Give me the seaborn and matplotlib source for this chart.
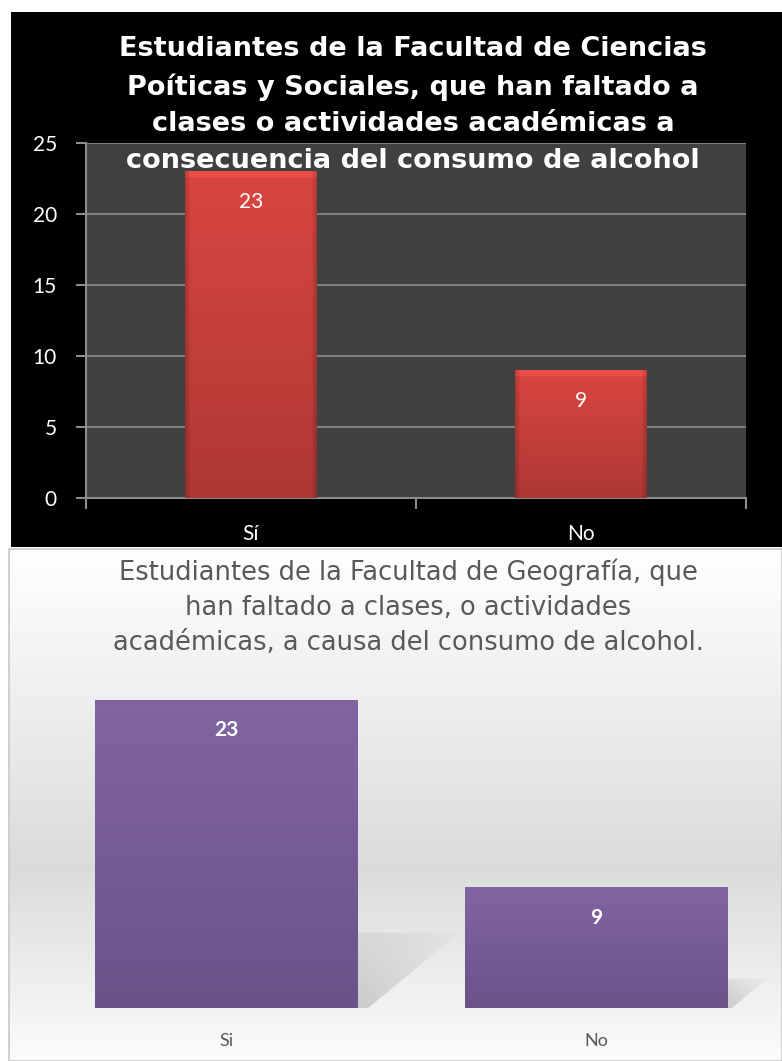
import numpy as np
import pandas as pd
import matplotlib
matplotlib.use("Agg")
import matplotlib.pyplot as plt
import seaborn as sns
from matplotlib.patches import Rectangle, Polygon
from matplotlib.colors import to_rgb

# ---------------- data ----------------
top_categories = ["Sí", "No"]
top_values = [23, 9]
top_title = ("Estudiantes de la Facultad de Ciencias\n"
             "Poíticas y Sociales, que han faltado a\n"
             "clases o actividades académicas a\n"
             "consecuencia del consumo de alcohol")
top_yticks = [0, 5, 10, 15, 20, 25]

bottom_categories = ["Si", "No"]
bottom_values = [23, 9]
bottom_title = ("Estudiantes de la Facultad de Geografía, que\n"
                "han faltado a clases, o actividades\n"
                "académicas, a causa del consumo de alcohol.")

W, H = 782, 1061
sns.set_theme(style="white")
plt.rcParams['font.family'] = ['Lato', 'DejaVu Sans']

fig = plt.figure(figsize=(W / 100, H / 100), dpi=100)
fig.patch.set_facecolor("white")


def fx(px):
    return px / W


def fy(py):
    return 1 - py / H


# black panel for top chart
fig.patches.append(Rectangle((fx(11), fy(547)), fx(W - 11), (547 - 12) / H,
                             transform=fig.transFigure, facecolor="black",
                             edgecolor="none", zorder=-5))

# ---------------- top chart ----------------
ax1 = fig.add_axes([fx(86), fy(498), fx(746 - 86), (498 - 143) / H])
ax1.set_zorder(2)
df1 = pd.DataFrame({"cat": top_categories, "val": top_values})
sns.barplot(data=df1, x="cat", y="val", ax=ax1, width=0.4,
            color="#d6443f", saturation=1, zorder=3, linewidth=0)
ax1.set_facecolor("#404040")
ax1.set_ylim(0, 25)
ax1.set_xlim(-0.5, 1.5)
ax1.set_yticks(top_yticks)
ax1.set_xlabel("")
ax1.set_ylabel("")
ax1.yaxis.grid(True, color="#8c8c8c", linewidth=1.2, zorder=1)
ax1.set_axisbelow(True)
for s in ["top", "right"]:
    ax1.spines[s].set_visible(False)
for s in ["left", "bottom"]:
    ax1.spines[s].set_color("#8c8c8c")
    ax1.spines[s].set_linewidth(1.5)
ax1.tick_params(axis="y", colors="#8c8c8c", labelcolor="white", length=7,
                width=1.5, labelsize=15, pad=14, left=True)
ax1.set_xticks([0, 1])
ax1.set_xticks([-0.5, 0.5, 1.5], minor=True)
ax1.tick_params(axis="x", which="major", length=0, labelcolor="white",
                labelsize=15, pad=19)
ax1.tick_params(axis="x", which="minor", length=8, width=1.5,
                color="#8c8c8c", bottom=True)

# gradient / bevel fill for top bars
top_rgb = np.array(to_rgb("#da4641"))
for p in ax1.patches:
    x0, y0 = p.get_x(), p.get_y()
    w, h = p.get_width(), p.get_height()
    ny, nx = 200, 100
    yy = np.linspace(1, 0, ny)[:, None]   # 1 = top
    xx = np.linspace(0, 1, nx)[None, :]
    shade = 0.80 + 0.20 * yy
    edge = 1 - 0.18 * np.clip(1 - np.minimum(xx, 1 - xx) / 0.04, 0, 1)
    img = top_rgb[None, None, :] * (shade * edge)[:, :, None]
    band = max(int(ny * min(0.05, 8 / (h * 14.2))), 2)
    img[:band] = np.minimum(img[:band] * 1.10, 1)
    img = np.clip(img, 0, 1)
    im = ax1.imshow(img, extent=[x0, x0 + w, y0, y0 + h], aspect="auto",
                    zorder=4, interpolation="bilinear")
    im.set_clip_path(p)
    ax1.annotate(f"{int(round(h))}", xy=(x0 + w / 2, h), xytext=(0, -22),
                 textcoords="offset points", ha="center", va="center",
                 color="white", fontsize=15, zorder=6)
ax1.set_xlim(-0.5, 1.5)
ax1.set_ylim(0, 25)

fig.text(fx(413), fy(105), top_title, ha="center", va="center",
         color="white", fontsize=19.5, fontweight="bold",
         family=["DejaVu Sans"], linespacing=1.52,
         zorder=10)

# ---------------- bottom chart ----------------
bg = fig.add_axes([fx(9), 0, fx(W - 9), (H - 549) / H])
bg.set_zorder(0)
grad_y = np.array([0, 0.45, 0.62, 1.0])
grad_v = np.array([1.0, 0.90, 0.86, 0.985])
rows = np.interp(np.linspace(0, 1, 300), grad_y, grad_v)
bg.imshow(np.repeat(rows[:, None], 2, axis=1)[:, :, None] * np.ones(3)[None, None, :],
          extent=[0, 1, 0, 1], aspect="auto", vmin=0, vmax=1)
bg.set_xlim(0, 1)
bg.set_ylim(0, 1)
bg.axis("off")
fig.patches.append(Rectangle((fx(9), 0), fx(W - 9), (H - 549) / H,
                             transform=fig.transFigure, facecolor="none",
                             edgecolor="#c8c8c8", linewidth=1.2, zorder=5))

ax2 = fig.add_axes([fx(41.5), fy(1008), fx(740), (1008 - 673) / H])
ax2.set_zorder(1)
ax2.patch.set_alpha(0)
df2 = pd.DataFrame({"cat": bottom_categories, "val": bottom_values})
sns.barplot(data=df2, x="cat", y="val", ax=ax2, width=0.71,
            color="#7760a0", saturation=1, zorder=3, linewidth=0)
ax2.set_ylim(0, 25)
ax2.set_xlim(-0.5, 1.5)
ax2.set_xlabel("")
ax2.set_ylabel("")
ax2.set_yticks([])
for s in ax2.spines.values():
    s.set_visible(False)
ax2.tick_params(axis="x", length=0, labelcolor="#595959", labelsize=13,
                pad=18)

fig.canvas.draw()
(px0, py0) = ax2.transData.transform((0, 0))
(px1, py1) = ax2.transData.transform((1, 1))
sx, sy = px1 - px0, py1 - py0

c_top = np.array(to_rgb("#8165a3"))
c_bot = np.array(to_rgb("#6b5289"))
for p in list(ax2.patches):
    x0, y0 = p.get_x(), p.get_y()
    w, h = p.get_width(), p.get_height()
    x1 = x0 + w
    hpx = h * sy
    sh_h = 0.245 * hpx / sy
    sh_w = 0.33 * hpx / sx
    poly = Polygon([(x1, 0), (x1, sh_h), (x1 + sh_w, sh_h),
                    (x1 + 0.1 * sh_w, 0)], closed=True,
                   facecolor="none", edgecolor="none")
    ax2.add_patch(poly)
    ny, nx = 80, 120
    gx = np.linspace(0, 1, nx)[None, :]
    gy = np.linspace(1, 0, ny)[:, None]
    alpha = np.clip(0.45 * (1 - gx) ** 0.6 * (1 - 0.6 * gy), 0, 1)
    simg = np.zeros((ny, nx, 4))
    simg[:, :, :3] = 0.6
    simg[:, :, 3] = alpha
    sim = ax2.imshow(simg, extent=[x1, x1 + sh_w, 0, sh_h], aspect="auto",
                     zorder=2, interpolation="bilinear")
    sim.set_clip_path(poly)
    t = np.linspace(1, 0, 200)[:, None]
    img = (c_bot[None, :] + (c_top - c_bot)[None, :] * t)[:, None, :]
    img = np.repeat(img, 2, axis=1)
    im = ax2.imshow(img, extent=[x0, x1, y0, y0 + h], aspect="auto",
                    zorder=4, interpolation="bilinear")
    im.set_clip_path(p)
    ax2.annotate(f"{int(round(h))}", xy=(x0 + w / 2, h), xytext=(0, -22),
                 textcoords="offset points", ha="center", va="center",
                 color="white", fontsize=15, fontweight="bold", zorder=6)
ax2.set_xlim(-0.5, 1.5)
ax2.set_ylim(0, 25)

fig.text(fx(408), fy(607), bottom_title, ha="center", va="center",
         color="#595959", fontsize=18.5,
         family=["DejaVu Sans"], linespacing=1.44,
         zorder=10)

fig.savefig("out.png", dpi=100)
